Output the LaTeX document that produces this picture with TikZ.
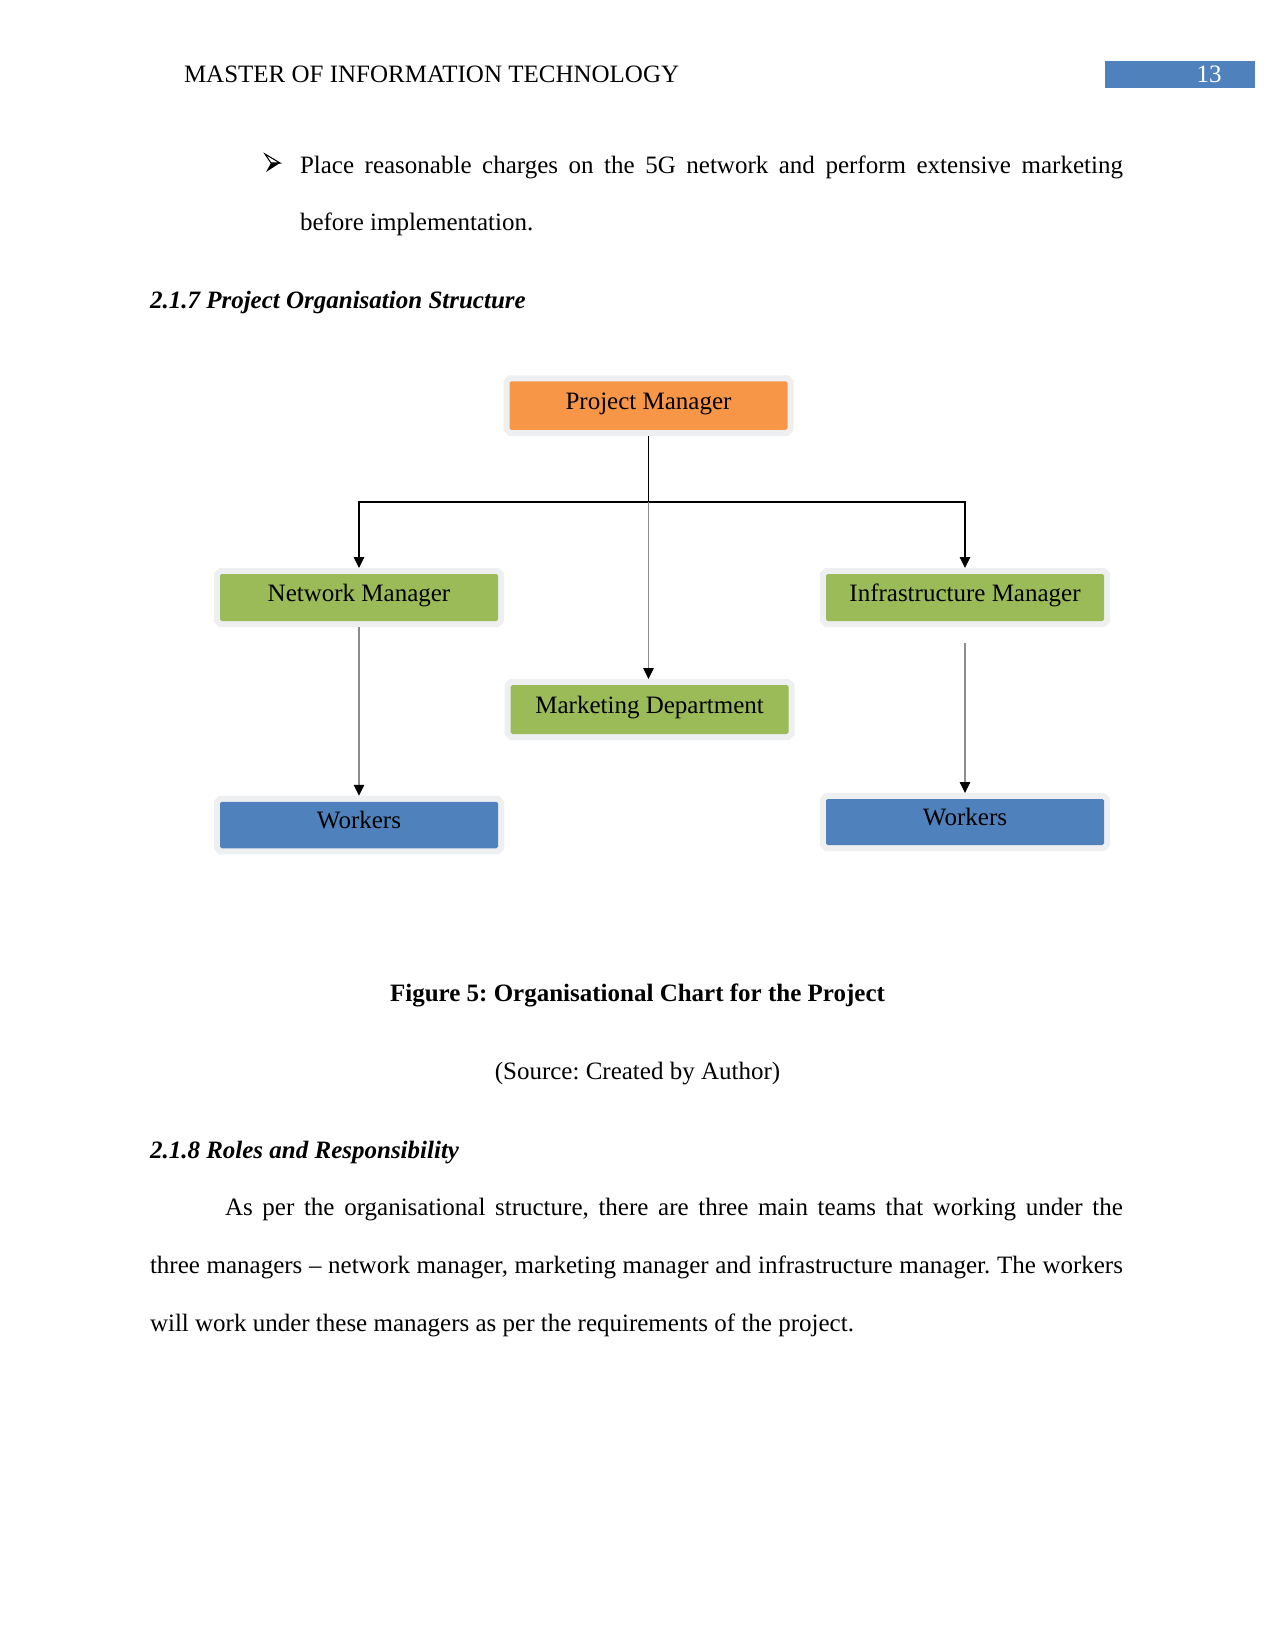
\documentclass[tikz,border=0pt]{standalone}
\usepackage{fontspec}
\setmainfont{Liberation Serif}
\usetikzlibrary{arrows.meta,calc}
\definecolor{orgorange}{HTML}{F79646}
\definecolor{orggreen}{HTML}{9BBB59}
\definecolor{orgblue}{HTML}{4F81BD}
\definecolor{glowc}{HTML}{EDEFF1}
\definecolor{thinline}{HTML}{8C8C8C}
\frenchspacing
\begin{document}
\begin{tikzpicture}[x=0.48pt,y=-0.48pt,
  txt/.style={inner sep=0pt, outer sep=0pt, font=\fontsize{12}{14}\selectfont, text=black},
  orgbox/.style={rectangle, rounded corners=0.8pt, minimum width=278*0.48pt,
    minimum height=47*0.48pt, inner sep=0pt, outer sep=6*0.48pt,
    text height=8.2pt, text depth=4.6pt,
    font=\fontsize{12}{14}\selectfont, text=black,
    preaction={draw=glowc, line width=12*0.48pt}},
  pmbox/.style={orgbox, fill=orgorange},
  grbox/.style={orgbox, fill=orggreen},
  blbox/.style={orgbox, fill=orgblue},
  tipa/.tip={Triangle[width=5pt,length=5.2pt,color=black]},
  mainconn/.style={draw=black, line width=0.6pt},
  thinconn/.style={draw=thinline, line width=0.5pt}
]
\fill[white] (0,0) rectangle (1275,1651);
\path[use as bounding box] (0,0) rectangle (1275,1651);

% header
\fill[orgblue] (1105,61) rectangle (1255,88);
\node[txt, anchor=base west] (hdr) at (184,83) {MASTER OF INFORMATION TECHNOLOGY};
\node[txt, anchor=base, text=white] (pg) at (1209,83) {13};

% bullet (3D arrowhead)
\draw[line width=0.5pt, line join=miter] (265,154) -- (280,163) -- (271,163) -- cycle;
\fill[black] (271,163) -- (280,163) -- (266,172) -- cycle;
\node[txt, anchor=base west] (b1) at (300,173.5) {\makebox[395pt][s]{Place reasonable charges on the 5G network and perform extensive marketing}};
\node[txt, anchor=base west] (b2) at (300,230.5) {before implementation.};

% heading
\node[txt, anchor=base west, font=\fontsize{12}{14}\selectfont\bfseries\itshape] (h1) at (150,309) {2.1.7 Project Organisation Structure};

% chart
\node[pmbox, minimum height=48.5*0.48pt] (pm) at (648.5,405.5) {Project Manager};
\node[grbox] (nm) at (359,597.5) {Network Manager};
\node[grbox] (im) at (965,597.5) {Infrastructure Manager};
\node[grbox, minimum height=49*0.48pt] (md) at (649.6,709.5) {Marketing Department};
\node[blbox, minimum height=46.5*0.48pt] (wl) at (359,825) {Workers};
\node[blbox, minimum height=46*0.48pt] (wr) at (965,822) {Workers};

\coordinate (j) at (648.5,502);
\draw[mainconn] (pm.south) -- (j);
\draw[mainconn, -tipa] (j) -| (nm.north);
\draw[mainconn, -tipa] (j) -| (im.north);
\draw[thinconn, -tipa] (j) -- (j |- md.north);
\draw[thinconn, -tipa] (nm.south) -- (wl.north);
\draw[thinconn, -tipa] ($(im.south)+(0,16)$) -- (wr.north);

% caption
\node[txt, anchor=base, font=\fontsize{12}{14}\selectfont\bfseries] (cap) at (637.5,1001) {Figure 5: Organisational Chart for the Project};
\node[txt, anchor=base] (src) at (637.5,1079) {(Source: Created by Author)};

% next section
\node[txt, anchor=base west, font=\fontsize{12}{14}\selectfont\bfseries\itshape] (h2) at (150,1158) {2.1.8 Roles and Responsibility};
\node[txt, anchor=base west] (p1) at (225,1215) {\makebox[431pt][s]{As per the organisational structure, there are three main teams that working under the}};
\node[txt, anchor=base west] (p2) at (150,1273) {\makebox[467pt][s]{three managers – network manager, marketing manager and infrastructure manager. The workers}};
\node[txt, anchor=base west] (p3) at (150,1331) {will work under these managers as per the requirements of the project.};
\end{tikzpicture}
\end{document}
